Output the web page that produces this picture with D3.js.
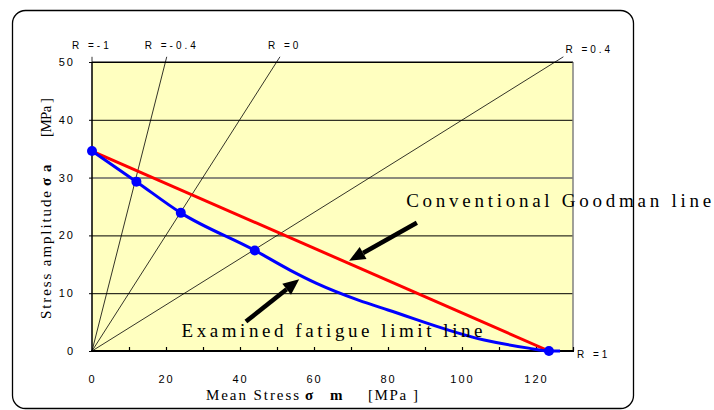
<!DOCTYPE html>
<html>
<head>
<meta charset="utf-8">
<script src="https://cdn.jsdelivr.net/npm/d3@7"></script>
<style>
  body { margin: 0; background: #fff; }
  .tick text { font-family: "Liberation Sans", Arial, Helvetica, sans-serif; font-size: 11px; letter-spacing: 2px; fill: #000; }
  text.serif { font-family: "Liberation Serif", "Times New Roman", Times, serif; fill: #000; }
  text.rlab { font-family: "Liberation Sans", Arial, Helvetica, sans-serif; font-size: 10px; letter-spacing: 3px; fill: #000; }
</style>
</head>
<body>
<svg class="chart"></svg>
<script>
// examined points (markers)
var pointMean = [0, 12, 24, 44, 123.5];
var pointAmp = [34.6, 29.3, 23.9, 17.4, 0];

// examined fatigue limit curve
var curveMean = [0, 12, 24, 44, 53.5, 60.7, 72, 80, 106, 118, 123.5, 126.5];
var curveAmp = [34.6, 29.3, 23.9, 17.4, 14.0, 11.7, 8.8, 7.1, 1.9, 0.5, 0, 0];

// conventional Goodman line
var goodmanMean = [0, 123.5];
var goodmanAmp = [34.6, 0];

// stress ratio lines from origin, end point at top
var rLabels = ["R =-1", "R =-0.4", "R =0", "R =0.4"];
var rTopMean = [0, 20.2, 50.8, 127.4];
var rTopAmp = 50.9;

var xTicks = [0, 20, 40, 60, 80, 100, 120];
var xMinorTicks = [10, 20, 30, 40, 50, 60, 70, 80, 90, 100, 110, 120, 130];
var yTicks = [0, 10, 20, 30, 40, 50];

var width = 714, height = 410;
var serifFont = "'Liberation Serif', 'Times New Roman', Times, serif";

var x = d3.scaleLinear().domain([0, 130]).range([92, 573]);
var y = d3.scaleLinear().domain([0, 50]).range([351, 62]);

var chart = d3.select(".chart")
    .attr("width", width)
    .attr("height", height);

// outer frame
chart.append("rect")
    .attr("x", 12.5).attr("y", 10.5)
    .attr("width", 621).attr("height", 398)
    .attr("rx", 13).attr("ry", 13)
    .attr("fill", "#fff")
    .attr("stroke", "#000")
    .attr("stroke-width", 1.3);

// plot area
chart.append("rect")
    .attr("x", x(0)).attr("y", y(50))
    .attr("width", x(130) - x(0)).attr("height", y(0) - y(50))
    .attr("fill", "#FFFFC0");

// gridlines
chart.selectAll(".grid")
    .data(yTicks.slice(1))
  .enter().append("line")
    .attr("x1", x(0)).attr("x2", x(130))
    .attr("y1", function(d) { return y(d) + 0.5; })
    .attr("y2", function(d) { return y(d) + 0.5; })
    .attr("stroke", function(d) { return d == 30 ? "#666" : "#000"; })
    .attr("stroke-width", function(d) { return d == 30 ? 1.5 : 1; });

// right border
chart.append("line")
    .attr("x1", x(130)).attr("x2", x(130))
    .attr("y1", y(50)).attr("y2", y(0))
    .attr("stroke", "#808080").attr("stroke-width", 1.5);

// R lines
chart.selectAll(".rline")
    .data(rTopMean)
  .enter().append("line")
    .attr("x1", x(0)).attr("y1", y(0))
    .attr("x2", function(d) { return x(d); })
    .attr("y2", y(rTopAmp))
    .attr("stroke", "#000").attr("stroke-width", 0.8);

var rLabShift = [-20, -22, -12, 2];
chart.selectAll(".rlab")
    .data(rLabels)
  .enter().append("text")
    .attr("class", "rlab")
    .attr("x", function(d, i) { return x(rTopMean[i]) + rLabShift[i]; })
    .attr("y", function(d, i) { return i == 3 ? 53 : 49; })
    .text(function(d) { return d; });

chart.append("text")
    .attr("class", "rlab")
    .attr("x", x(130) + 4)
    .attr("y", y(0) + 7)
    .text("R =1");

// axes
chart.append("g")
    .attr("transform", "translate(0," + y(0) + ")")
    .call(d3.axisBottom(x).tickValues(xMinorTicks).tickSize(-4).tickFormat(""))
    .call(function(g) { g.select(".domain").remove(); g.selectAll("line").attr("stroke-width", 1.2); });

chart.append("g")
    .attr("transform", "translate(0," + y(0) + ")")
    .call(d3.axisBottom(x).tickValues(xTicks).tickSize(0).tickPadding(24))
    .call(function(g) { g.select(".domain").remove(); });

chart.append("g")
    .attr("transform", "translate(" + x(0) + ",0)")
    .call(d3.axisLeft(y).tickValues(yTicks).tickSize(3).tickPadding(14))
    .call(function(g) { g.select(".domain").remove(); });

chart.append("line")
    .attr("x1", x(0)).attr("x2", x(0))
    .attr("y1", y(50)).attr("y2", y(0))
    .attr("stroke", "#000").attr("stroke-width", 1.2);

chart.append("line")
    .attr("x1", x(0)).attr("x2", x(130))
    .attr("y1", y(50)).attr("y2", y(50))
    .attr("stroke", "#000").attr("stroke-width", 1.2);

chart.append("line")
    .attr("x1", x(0) - 1).attr("x2", x(130) + 1)
    .attr("y1", y(0)).attr("y2", y(0))
    .attr("stroke", "#000").attr("stroke-width", 2.2);

// Goodman line
var goodman = d3.line()
    .x(function(d, i) { return x(goodmanMean[i]); })
    .y(function(d, i) { return y(goodmanAmp[i]); });

chart.append("path")
    .attr("d", goodman(goodmanMean))
    .attr("fill", "none")
    .attr("stroke", "#FF0000")
    .attr("stroke-width", 3);

// examined curve
var curve = d3.line()
    .x(function(d, i) { return x(curveMean[i]); })
    .y(function(d, i) { return y(curveAmp[i]); })
    .curve(d3.curveMonotoneX);

chart.append("path")
    .attr("d", curve(curveMean))
    .attr("fill", "none")
    .attr("stroke", "#0000FF")
    .attr("stroke-width", 3);

chart.selectAll(".pt")
    .data(pointMean)
  .enter().append("circle")
    .attr("cx", function(d) { return x(d); })
    .attr("cy", function(d, i) { return y(pointAmp[i]); })
    .attr("r", 5)
    .attr("fill", "#0000FF");

// annotation arrows (tail, tip in data units)
var arrows = [
  {from: [87.8, 22.2], to: [69.5, 15.6]},
  {from: [41.6, 5.1], to: [56.0, 12.4]}
];

arrows.forEach(function(a) {
  var x1 = x(a.from[0]), y1 = y(a.from[1]), x2 = x(a.to[0]), y2 = y(a.to[1]);
  var ang = Math.atan2(y2 - y1, x2 - x1), hl = 16, hw = 7;
  var bx = x2 - hl * Math.cos(ang), by = y2 - hl * Math.sin(ang);
  chart.append("line")
      .attr("x1", x1).attr("y1", y1).attr("x2", bx).attr("y2", by)
      .attr("stroke", "#000").attr("stroke-width", 4.5);
  chart.append("path")
      .attr("d", "M" + x2 + "," + y2 +
                 "L" + (bx + hw * Math.sin(ang)) + "," + (by - hw * Math.cos(ang)) +
                 "L" + (bx - hw * Math.sin(ang)) + "," + (by + hw * Math.cos(ang)) + "Z")
      .attr("fill", "#000");
});

chart.append("text")
    .attr("class", "serif")
    .attr("x", x(84.9)).attr("y", y(25))
    .attr("textLength", 305).attr("lengthAdjust", "spacing")
    .style("font-family", serifFont)
    .style("font-size", "19px")
    .text("Conventional Goodman line");

chart.append("text")
    .attr("class", "serif")
    .attr("x", x(24.2)).attr("y", y(2.4))
    .attr("textLength", 301).attr("lengthAdjust", "spacing")
    .style("font-family", serifFont)
    .style("font-size", "19px")
    .text("Examined fatigue limit line");

// x title
var xt = chart.append("g").attr("transform", "translate(0,400)")
    .style("font-family", serifFont).style("font-size", "15px");
xt.append("text").attr("class", "serif").attr("x", 206)
    .attr("textLength", 93).attr("lengthAdjust", "spacing")
    .text("Mean Stress");
xt.append("text").attr("class", "serif").attr("x", 305)
    .style("font-weight", "bold").text("σ");
xt.append("text").attr("class", "serif").attr("x", 330)
    .style("font-weight", "bold").text("m");
xt.append("text").attr("class", "serif").attr("x", 368)
    .attr("textLength", 50).attr("lengthAdjust", "spacing")
    .text("[MPa ]");

// y title
var yt = chart.append("g").attr("transform", "translate(51,0) rotate(-90)")
    .style("font-family", serifFont).style("font-size", "15px");
yt.append("text").attr("class", "serif").attr("x", -319)
    .attr("textLength", 128).attr("lengthAdjust", "spacing")
    .text("Stress amplitude");
yt.append("text").attr("class", "serif").attr("x", -186)
    .style("font-weight", "bold").text("σ");
yt.append("text").attr("class", "serif").attr("x", -172)
    .style("font-weight", "bold").text("a");
yt.append("text").attr("class", "serif").attr("x", -137)
    .attr("textLength", 39).attr("lengthAdjust", "spacing")
    .text("[MPa ]");
</script>
</body>
</html>
